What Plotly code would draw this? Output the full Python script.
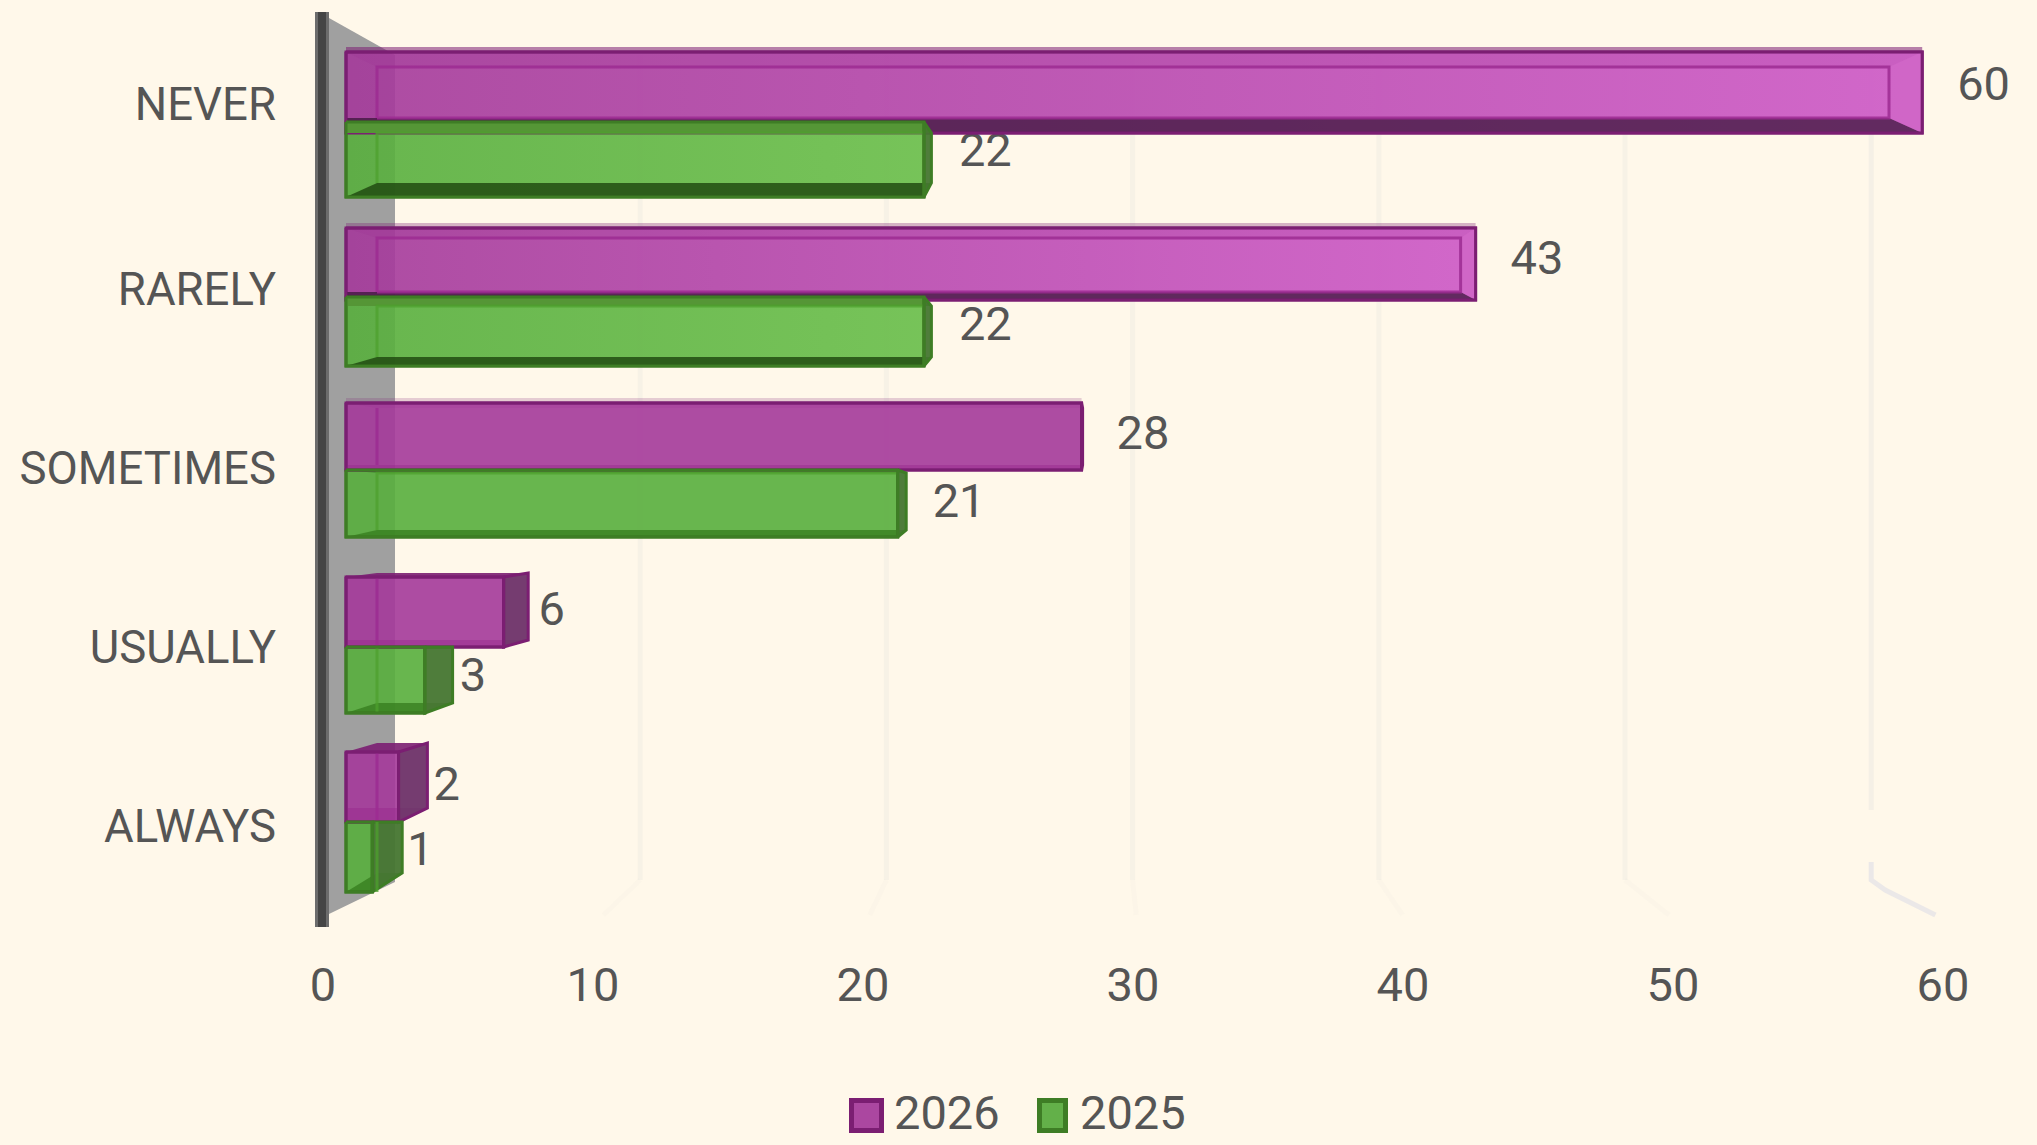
import plotly.graph_objects as go

categories = ["NEVER", "RARELY", "SOMETIMES", "USUALLY", "ALWAYS"]
values_2026 = [60, 43, 28, 6, 2]
values_2025 = [22, 22, 21, 3, 1]
x_ticks = [0, 10, 20, 30, 40, 50, 60]

# ---- layout constants (pixels of the 2037x1145 page) ----
W, H = 2037, 1145
PLOT_L, PLOT_B = 290, 953
BG = "#FFF8EA"
TXT = "#555555"
FONT = "Roboto"
FS = 45.5
FS_NUM = 47
ROW0, ROWH = 104, 180.5      # category band
TICK0, TICKU = 323, 27.0     # visible tick scale
F0, FU = 346, 26.27          # front plane of the bars
B0, BU = 377, 25.2           # back plane of the bars
GB0, GBU = 394, 24.62        # back wall of the grid
GF0, GFU = 337, 26.64        # front edge of the floor

# vertical extents of front / back faces per row
P_FT = [52, 228, 403, 577, 752]
P_FB = [133, 300, 470, 647, 822]
P_BT = [67, 238, 408, 573, 743]
P_BB = [118, 292, 465, 640, 808]
G_FT = [122, 297, 470, 647, 822]
G_FB = [197, 366, 537, 713, 892]
G_BT = [133, 306, 473, 647, 822]
G_BB = [183, 357, 530, 703, 873]
P_LAB = [88, 262, 437, 613, 788]
G_LAB = [154, 328, 505, 679, 853]
CAT_Y = [104, 289, 468, 647, 826]
GLOW = [1, 1, 0, 0, 0]
HALO = [0.55, 0.32, 0.2, 0, 0]


def yu(px):
    return (px - ROW0) / ROWH


def xf(px):
    return (px - F0) / FU


def back(v):
    return xf(B0 + BU * v)


def poly(xs, ys, fill=None, line=None, lw=0, xaxis="x3", grad=None, closed=True):
    tail_x = [xs[0]] if closed else []
    tail_y = [yu(ys[0])] if closed else []
    kw = dict(
        x=list(xs) + tail_x, y=[yu(p) for p in ys] + tail_y,
        xaxis=xaxis, yaxis="y", mode="lines", showlegend=False,
        hoverinfo="skip", line=dict(color=line or "rgba(0,0,0,0)", width=lw),
    )
    if fill or grad:
        kw["fill"] = "toself"
    if fill:
        kw["fillcolor"] = fill
    if grad:
        kw["fillgradient"] = grad
    return go.Scatter(**kw)


fig = go.Figure()

# tick-only trace on the visible axis
fig.add_trace(go.Scatter(x=x_ticks, y=[None] * len(x_ticks), xaxis="x", yaxis="y",
                         mode="markers", showlegend=False, hoverinfo="skip"))


def grid_seg(xs, ys, col, width=5):
    return go.Scatter(x=xs, y=[yu(p) for p in ys], xaxis="x2", yaxis="y", mode="lines",
                      showlegend=False, hoverinfo="skip", line=dict(color=col, width=width))


# grid: back-wall verticals bending forward along the floor
for t in x_ticks[1:]:
    gx = xf(GB0 + GBU * t)
    fx = xf(GF0 + GFU * t)
    if t == 60:
        fig.add_trace(grid_seg([gx, gx], [55, 810], "rgba(225,225,220,0.32)"))
        fig.add_trace(grid_seg([gx, gx, xf(GB0 + GBU * t + 14), fx], [862, 880, 890, 915],
                               "rgba(222,222,230,0.6)"))
    else:
        fig.add_trace(grid_seg([gx, gx], [55, 880], "rgba(225,225,220,0.28)"))
        fig.add_trace(grid_seg([gx, fx], [880, 915], "rgba(225,225,220,0.1)"))

# side wall and axis edge
fig.add_trace(poly([xf(329), xf(395), xf(395), xf(329)], [18, 55, 882, 914],
                   fill="#A0A0A0", xaxis="x2"))
for w, col in ((14, "#6C6C6C"), (8, "#454545")):
    fig.add_trace(grid_seg([xf(322), xf(322)], [12, 927], col, w))

# value labels sit under the bars
lab_x, lab_y, lab_t = [], [], []
for vals, ys in ((values_2026, P_LAB), (values_2025, G_LAB)):
    for v, y in zip(vals, ys):
        lab_x.append(v + 35 / FU)
        lab_y.append(yu(y))
        lab_t.append(str(v))
fig.add_trace(go.Scatter(x=lab_x, y=lab_y, text=lab_t, xaxis="x2", yaxis="y", mode="text",
                         textposition="middle right", showlegend=False, hoverinfo="skip",
                         textfont=dict(family=FONT, size=FS_NUM, color=TXT)))

# front faces as real bars
P_EDGE, G_EDGE = "#7B1E72", "#3E7D25"
for name, vals, ft, fb, col, edge in (
    ("2026", values_2026, P_FT, P_FB, "rgba(164,56,154,0.9)", P_EDGE),
    ("2025", values_2025, G_FT, G_FB, "rgba(88,174,61,0.9)", G_EDGE),
):
    fig.add_trace(go.Bar(
        name=name, orientation="h", x=vals,
        y=[yu((a + b) / 2) for a, b in zip(ft, fb)],
        width=[(b - a) / ROWH for a, b in zip(ft, fb)],
        xaxis="x3", yaxis="y", showlegend=False, hoverinfo="skip",
        marker=dict(color=col, line=dict(color=edge, width=3)),
    ))


def dress(v, ft, fb, bt, bb, glow, halo, kind):
    purple = kind == "p"
    edge = P_EDGE if purple else G_EDGE
    inner = "rgba(156,44,146,0.85)" if purple else "rgba(78,160,45,0.75)"
    x0, f, b0, b = 0, v, xf(B0), back(v)
    out = []
    if halo and purple:
        out.append(poly([x0, f], [ft - 3, ft - 3], line="rgba(123,30,114,%s)" % halo, lw=4, closed=False))
    if glow:
        end = "rgba(232,120,226,0.62)" if purple else "rgba(140,215,105,0.4)"
        stop = (60 if v > 50 else 43) if purple else v
        grad = dict(type="horizontal", start=0, stop=stop,
                    colorscale=[[0, end.rsplit(",", 1)[0] + ",0)"], [1, end]])
        out.append(poly([x0, f, f, x0], [ft, ft, fb, fb], grad=grad))
    # top face
    if bt > ft:
        if glow and not purple:
            out.append(poly([x0, f, b, x0], [ft, ft, bt, bt], fill="#559636"))
        else:
            tint = "rgba(150,40,140,0.12)" if purple else "rgba(40,100,25,0.38)"
            out.append(poly([x0, f, b, b0], [ft, ft, bt, bt], fill=tint))
    elif bt < ft:
        out.append(poly([x0, f, b, b0], [ft, ft, bt, bt],
                        fill="rgba(123,30,114,0.9)" if purple else "rgba(62,125,37,0.85)"))
    # underside
    if bb < fb:
        if glow:
            under = "rgba(55,20,55,0.72)" if purple else "rgba(30,72,15,0.82)"
        else:
            under = "rgba(150,40,140,0.45)" if purple else "rgba(50,120,25,0.7)"
        left = x0 if purple else b0
        out.append(poly([x0, f, b, left], [fb, fb, bb, bb], fill=under))
    # end face
    if b > f:
        side = "rgba(110,50,105,0.95)" if purple else "rgba(70,118,50,0.95)"
        out.append(poly([f, b, b, f], [ft, bt, bb, fb], fill=side, line=edge, lw=3))
    elif b < f:
        out.append(poly([f, b, b, f], [ft, bt, bb, fb], fill="rgba(205,100,195,0.35)"))
    # inner edges of the far face
    if b >= f and abs(b - f) * FU > 2:
        if bt > ft:
            out.append(poly([f, b0, b0], [bt, bt, bb], line=inner, lw=3, closed=False))
        else:
            out.append(poly([b0, b0], [ft, fb], line=inner, lw=3, closed=False))
    elif b < f:
        out.append(poly([b0, b, b, b0, b0], [bb, bb, bt, bt, bb], line=inner, lw=3, closed=False))
    else:
        out.append(poly([b0, b0], [bt, bb], line=inner, lw=3, closed=False))
    # front outline on top
    out.append(poly([x0, f, f, x0], [ft, ft, fb, fb], line=edge, lw=3))
    return out


for i, v in enumerate(values_2026):
    for t in dress(v, P_FT[i], P_FB[i], P_BT[i], P_BB[i], GLOW[i], HALO[i], "p"):
        fig.add_trace(t)
for i, v in enumerate(values_2025):
    for t in dress(v, G_FT[i], G_FB[i], G_BT[i], G_BB[i], GLOW[i], 0, "g"):
        fig.add_trace(t)

# legend drawn at the reference's size
shapes = []
for x0, x1, fill, edge in ((849, 884, "#AB47A0", P_EDGE), (1037, 1068, "#63B049", G_EDGE)):
    shapes.append(dict(type="rect", xref="paper", yref="paper", x0=(x0 + 2.5) / W, x1=(x1 - 2.5) / W,
                       y0=1 - 1130.5 / H, y1=1 - 1100.5 / H, fillcolor=fill, line=dict(color=edge, width=5)))
annots = []
for x, name in ((892, "2026"), (1078, "2025")):
    annots.append(dict(xref="paper", yref="paper", x=x / W, y=1 - 1112 / H, text=name, showarrow=False,
                       xanchor="left", yanchor="middle", align="left",
                       font=dict(family=FONT, size=FS_NUM, color=TXT)))

dom = [PLOT_L / W, 1]
fig.update_layout(
    width=W, height=H, autosize=False,
    margin=dict(l=0, r=0, t=0, b=0, pad=0),
    paper_bgcolor=BG, plot_bgcolor=BG, showlegend=False, barmode="overlay",
    font=dict(family=FONT, size=FS, color=TXT),
    shapes=shapes, annotations=annots,
    xaxis=dict(domain=dom, range=[(PLOT_L - TICK0) / TICKU, (W - TICK0) / TICKU],
               tickmode="array", tickvals=x_ticks, ticktext=[str(t) for t in x_ticks],
               showgrid=False, zeroline=False, showline=False, ticks="",
               tickfont=dict(family=FONT, size=FS_NUM, color=TXT)),
    xaxis2=dict(domain=dom, overlaying="x", visible=False,
                range=[(PLOT_L - F0) / FU, (W - F0) / FU], anchor="y"),
    xaxis3=dict(domain=dom, overlaying="x", visible=False,
                range=[(PLOT_L - F0) / FU, (W - F0) / FU], anchor="y"),
    yaxis=dict(domain=[1 - PLOT_B / H, 1], range=[yu(PLOT_B), yu(0)],
               tickmode="array", tickvals=[yu(p) for p in CAT_Y], ticktext=categories,
               showgrid=False, zeroline=False, showline=False, ticks="", ticklabelstandoff=13,
               tickfont=dict(family=FONT, size=FS, color=TXT)),
)

fig.write_html("out.html", config=dict(displayModeBar=False),
               post_script="document.body.style.margin='0';document.body.style.background='%s';" % BG)
